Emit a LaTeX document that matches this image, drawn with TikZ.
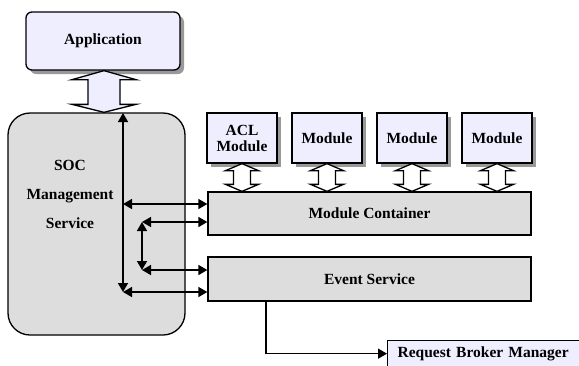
\documentclass[tikz,border=0pt]{standalone}
\usepackage{fontspec}
\setmainfont{Liberation Serif}
\usetikzlibrary{arrows.meta,shadows,calc}
\definecolor{lav}{RGB}{238,238,255}
\definecolor{lgray}{RGB}{221,221,221}
\newcommand{\hollowdbl}[5]{% #1 top, #2 bottom, #3 head half, #4 shaft half, #5 head length
  \draw[hollow] (#1) -- ($(#1)+(-#3,#5)$) -- ($(#1)+(-#4,#5)$) -- ($(#2)+(-#4,-#5)$)
    -- ($(#2)+(-#3,-#5)$) -- (#2) -- ($(#2)+(#3,-#5)$) -- ($(#2)+(#4,-#5)$)
    -- ($(#1)+(#4,#5)$) -- ($(#1)+(#3,#5)$) -- cycle;}
\tikzset{
  lbl/.style={font=\fontsize{15.5}{17}\selectfont\bfseries},
  appbox/.style={draw=black, line width=1.3pt, fill=lav, rounded corners=6pt,
    drop shadow={shadow xshift=4pt, shadow yshift=-4pt, fill=black!40, opacity=1}, lbl},
  modbox/.style={draw=black, line width=1.3pt, fill=lav, lbl,
    drop shadow={shadow xshift=4pt, shadow yshift=-4pt, fill=black!40, opacity=1}},
  graybox/.style={draw=black, line width=1.3pt, fill=lgray, lbl},
  hollow/.style={draw=black, line width=1.3pt, fill=white},
  arr/.style={line width=1.5pt, -{Triangle[length=9pt,width=10pt]}},
  darr/.style={line width=1.5pt, {Triangle[length=9pt,width=10pt]}-{Triangle[length=9pt,width=10pt]}},
}
\begin{document}
\begin{tikzpicture}[x=1pt,y=-1pt]
\useasboundingbox (0,0) rectangle (579,365);
\clip (0,0) rectangle (579,365);
% Application
\node[appbox, minimum width=154pt, minimum height=58pt] (app) at (103,41) {Application};
% SOC
\node[graybox, rounded corners=22pt, minimum width=177pt, minimum height=222pt] (soc) at (96.5,224) {};
\node[lbl, align=center, font=\fontsize{15.5}{29}\selectfont\bfseries] (soctext) at (70,194) {SOC\\Management\\Service};
% hollow arrow app-soc
\begin{scope}[fill=lav]
\coordinate (ha1) at ($(app.south)+(1,0)$);
\coordinate (ha2) at (ha1 |- soc.north);
\draw[draw=black, line width=1.3pt, fill=lav] (ha1) -- ($(ha1)+(-32,9)$) -- ($(ha1)+(-16,9)$) -- ($(ha2)+(-16,-8)$)
    -- ($(ha2)+(-32,-8)$) -- (ha2) -- ($(ha2)+(32,-8)$) -- ($(ha2)+(16,-8)$)
    -- ($(ha1)+(16,9)$) -- ($(ha1)+(32,9)$) -- cycle;
\end{scope}
% Modules
\node[modbox, minimum width=70pt, minimum height=50pt, align=center, font=\fontsize{15.5}{16}\selectfont\bfseries] (m1) at (242,138) {ACL\\Module};
\node[modbox, minimum width=70pt, minimum height=50pt] (m2) at (327,138) {Module};
\node[modbox, minimum width=70pt, minimum height=50pt] (m3) at (412,138) {Module};
\node[modbox, minimum width=70pt, minimum height=50pt] (m4) at (497,138) {Module};
% Container and event service
\node[graybox, minimum width=323pt, minimum height=43pt] (mc) at (369.5,213.5) {Module Container};
\node[graybox, minimum width=323pt, minimum height=44pt] (ev) at (369.5,279) {Event Service};
% module hollow arrows
\foreach \m in {m1,m2,m3,m4}{
  \coordinate (t\m) at (\m.south);
  \coordinate (b\m) at (\m.south |- mc.north);
  \hollowdbl{t\m}{b\m}{16.5}{8.5}{7}
}
% Request Broker Manager
\node[modbox, drop shadow={opacity=0}, anchor=north west, minimum width=200pt, minimum height=26pt,
  inner xsep=10pt, text width=180pt, align=left] (rbm) at (387,340) {Request Broker Manager};
% thin arrows
\coordinate (v1t) at (123,113);
\coordinate (v1b) at (123,292);
\coordinate (h1) at (123,204);
\coordinate (v2t) at (142,222);
\coordinate (v2b) at (142,270);
\draw[darr] (v1t) -- (v1b);
\draw[darr] (h1) -- (h1 -| mc.west);
\draw[darr] (v2t) -- (v2t -| mc.west);
\draw[darr] (v2t) -- (v2b);
\draw[darr] (v2b) -- (v2b -| ev.west);
\draw[darr] (v1b) -- (v1b -| ev.west);
% event to rbm
\coordinate (evout) at (266,301);
\draw[arr] (evout) |- (rbm.west);
\end{tikzpicture}
\end{document}
